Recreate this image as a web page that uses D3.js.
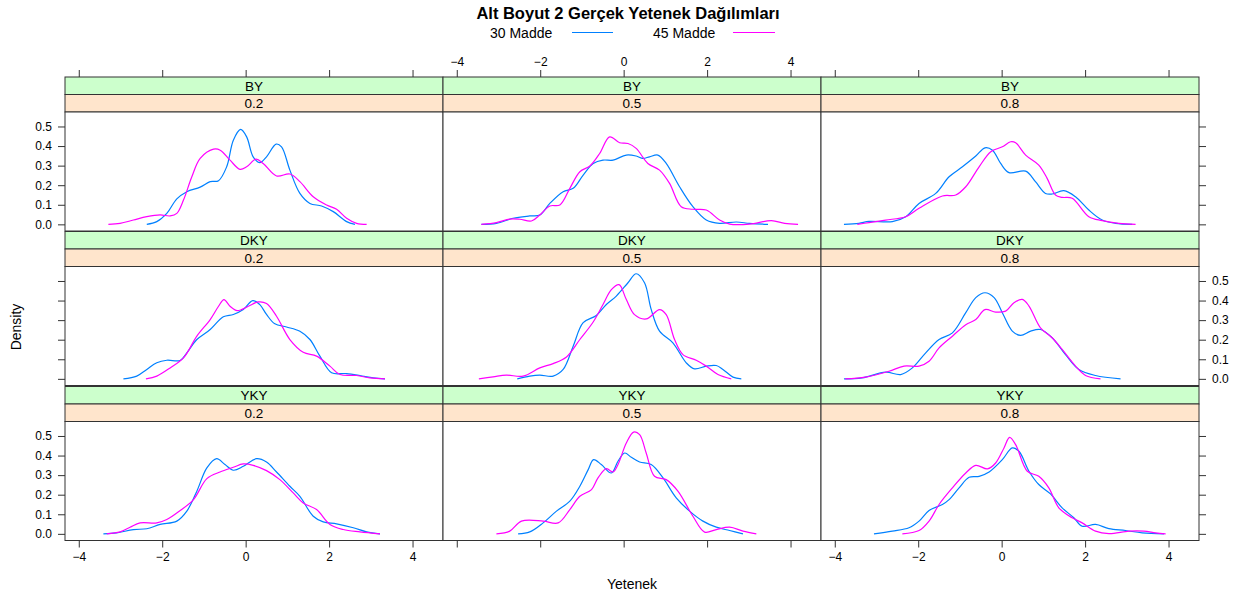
<!DOCTYPE html>
<html><head><meta charset="utf-8">
<script src="https://cdn.jsdelivr.net/npm/d3@7"></script>
<style>
body{margin:0;background:#fff}
svg text{font-family:"Liberation Sans",Arial,Helvetica,sans-serif;fill:#000}
</style>
</head><body>
<svg id="chart" width="1248" height="597"></svg>
<script>
// ---------- data ----------
const titleText = "Alt Boyut 2 Gerçek Yetenek Dağılımları";
const xLabel = "Yetenek";
const yLabel = "Density";
const rowLabels = ["BY", "DKY", "YKY"];
const colLabels = ["0.2", "0.5", "0.8"];
const seriesNames = ["30 Madde", "45 Madde"];
const seriesColors = ["#0080ff", "#ff00ff"];
const xTicks = [-4, -2, 0, 2, 4];
const yTicks = [0, 0.1, 0.2, 0.3, 0.4, 0.5];

// density curves: [ability, density]
const BY_02_30 = [[-2.37,0],[-2.13,0.014],[-1.89,0.056],[-1.65,0.13],[-1.41,0.167],[-1.09,0.19],[-0.85,0.218],[-0.65,0.223],[-0.455,0.294],[-0.295,0.43],[-0.12,0.485],[0.024,0.447],[0.18,0.345],[0.34,0.315],[0.5,0.345],[0.73,0.41],[0.86,0.396],[1.06,0.277],[1.3,0.158],[1.54,0.107],[1.82,0.094],[2.1,0.065],[2.42,0.014],[2.62,0]];
const BY_02_45 = [[-3.29,0],[-3.01,0.005],[-2.69,0.022],[-2.37,0.039],[-2.05,0.048],[-1.81,0.043],[-1.65,0.056],[-1.49,0.124],[-1.29,0.243],[-1.09,0.337],[-0.77,0.384],[-0.61,0.379],[-0.375,0.328],[-0.136,0.281],[0.024,0.294],[0.25,0.333],[0.42,0.311],[0.74,0.247],[1.06,0.257],[1.3,0.218],[1.62,0.141],[1.94,0.099],[2.18,0.077],[2.42,0.031],[2.66,0.005],[2.9,0]];
const BY_05_30 = [[-3.41,0],[-3.05,0.005],[-2.65,0.031],[-2.25,0.043],[-2.01,0.048],[-1.77,0.107],[-1.45,0.167],[-1.21,0.184],[-0.97,0.252],[-0.73,0.311],[-0.495,0.328],[-0.255,0.328],[0.064,0.354],[0.3,0.349],[0.46,0.337],[0.62,0.345],[0.82,0.354],[1.02,0.311],[1.34,0.192],[1.66,0.09],[1.98,0.022],[2.3,0.005],[2.7,0.012],[3.02,0.005],[3.46,0]];
const BY_05_45 = [[-3.41,0],[-3.05,0.009],[-2.73,0.027],[-2.49,0.026],[-2.21,0.017],[-2.01,0.048],[-1.77,0.094],[-1.53,0.099],[-1.29,0.184],[-1.05,0.269],[-0.81,0.298],[-0.575,0.362],[-0.335,0.447],[-0.096,0.417],[0.104,0.413],[0.3,0.388],[0.58,0.311],[0.86,0.277],[1.1,0.209],[1.38,0.09],[1.66,0.077],[1.98,0.073],[2.3,0.022],[2.54,0.001],[3.02,0.001],[3.54,0.019],[3.86,0.005],[4.18,0]];
const BY_08_30 = [[-3.78,0],[-3.42,0.005],[-3.18,0.015],[-2.62,0.014],[-2.3,0.039],[-1.98,0.107],[-1.58,0.158],[-1.26,0.243],[-0.94,0.294],[-0.62,0.349],[-0.4,0.391],[-0.22,0.379],[-0.024,0.311],[0.176,0.264],[0.575,0.272],[0.81,0.218],[1.05,0.158],[1.21,0.155],[1.49,0.172],[1.77,0.141],[2.09,0.073],[2.41,0.022],[2.73,0.005],[3.13,0]];
const BY_08_45 = [[-3.46,0],[-3.18,0.009],[-2.78,0.022],[-2.3,0.039],[-1.98,0.082],[-1.42,0.145],[-1.1,0.15],[-0.86,0.192],[-0.54,0.294],[-0.26,0.371],[0.016,0.396],[0.216,0.422],[0.335,0.417],[0.575,0.354],[0.89,0.303],[1.09,0.235],[1.29,0.15],[1.45,0.138],[1.69,0.133],[2.09,0.039],[2.41,0.019],[2.81,0.005],[3.21,0]];
const DKY_02_30 = [[-2.93,0],[-2.61,0.014],[-2.37,0.048],[-2.13,0.082],[-1.89,0.095],[-1.57,0.094],[-1.41,0.133],[-1.17,0.201],[-0.85,0.252],[-0.535,0.317],[-0.295,0.329],[-0.056,0.354],[0.17,0.4],[0.34,0.379],[0.5,0.329],[0.7,0.281],[0.98,0.265],[1.3,0.243],[1.54,0.201],[1.78,0.116],[2.06,0.031],[2.42,0.027],[2.74,0.017],[3.06,0.005],[3.34,0]];
const DKY_02_45 = [[-2.39,0],[-2.13,0.014],[-1.81,0.056],[-1.49,0.107],[-1.17,0.218],[-0.85,0.303],[-0.65,0.371],[-0.52,0.405],[-0.375,0.371],[-0.2,0.349],[0.064,0.371],[0.3,0.393],[0.5,0.385],[0.74,0.32],[1.06,0.201],[1.38,0.136],[1.7,0.116],[2.02,0.065],[2.26,0.022],[2.66,0.017],[2.98,0.005],[3.34,0]];
const DKY_05_30 = [[-2.55,0],[-2.25,0.014],[-2.01,0.019],[-1.69,0.014],[-1.45,0.048],[-1.21,0.167],[-0.97,0.287],[-0.655,0.324],[-0.415,0.38],[-0.176,0.423],[0.104,0.491],[0.3,0.537],[0.5,0.491],[0.66,0.355],[0.86,0.244],[1.18,0.184],[1.5,0.082],[1.7,0.051],[1.98,0.065],[2.22,0.068],[2.38,0.048],[2.62,0.009],[2.82,0]];
const DKY_05_45 = [[-3.47,0],[-3.13,0.01],[-2.81,0.019],[-2.41,0.014],[-2.01,0.056],[-1.69,0.078],[-1.37,0.112],[-1.05,0.201],[-0.735,0.289],[-0.495,0.38],[-0.295,0.456],[-0.11,0.481],[0.064,0.405],[0.26,0.328],[0.54,0.306],[0.86,0.354],[1.02,0.328],[1.22,0.201],[1.42,0.124],[1.74,0.095],[1.98,0.065],[2.26,0.022],[2.58,0]];
const DKY_08_30 = [[-3.78,0],[-3.34,0.005],[-2.78,0.034],[-2.42,0.022],[-2.14,0.056],[-1.82,0.133],[-1.5,0.201],[-1.18,0.235],[-0.86,0.338],[-0.62,0.415],[-0.4,0.44],[-0.18,0.415],[0.016,0.338],[0.255,0.244],[0.455,0.222],[0.695,0.244],[0.93,0.252],[1.21,0.21],[1.53,0.124],[1.85,0.048],[2.25,0.017],[2.85,0]];
const DKY_08_45 = [[-3.75,0],[-3.26,0.009],[-2.7,0.039],[-2.34,0.065],[-1.98,0.065],[-1.74,0.09],[-1.5,0.158],[-1.18,0.218],[-0.86,0.277],[-0.62,0.303],[-0.4,0.354],[-0.144,0.341],[0.096,0.346],[0.295,0.389],[0.495,0.406],[0.655,0.372],[0.93,0.261],[1.21,0.21],[1.45,0.15],[1.77,0.065],[2.01,0.017],[2.37,0]];
const YKY_02_30 = [[-3.41,0],[-3.09,0.005],[-2.69,0.022],[-2.37,0.026],[-2.05,0.048],[-1.65,0.065],[-1.41,0.116],[-1.17,0.218],[-0.93,0.337],[-0.695,0.384],[-0.495,0.354],[-0.295,0.325],[-0.056,0.345],[0.26,0.384],[0.5,0.367],[0.74,0.316],[1.06,0.243],[1.3,0.192],[1.62,0.09],[1.86,0.061],[2.18,0.051],[2.58,0.031],[2.9,0.01],[3.22,0]];
const YKY_02_45 = [[-3.33,0],[-3.01,0.01],[-2.77,0.034],[-2.53,0.056],[-2.13,0.056],[-1.89,0.073],[-1.57,0.119],[-1.25,0.175],[-0.93,0.282],[-0.615,0.316],[-0.295,0.34],[-0.056,0.357],[0.18,0.35],[0.5,0.323],[0.82,0.277],[1.14,0.209],[1.38,0.158],[1.7,0.124],[2.02,0.048],[2.34,0.022],[2.74,0.01],[3.22,0]];
const YKY_05_30 = [[-2.53,0],[-2.25,0.01],[-1.93,0.056],[-1.61,0.116],[-1.29,0.167],[-1.05,0.243],[-0.85,0.328],[-0.72,0.379],[-0.535,0.354],[-0.295,0.311],[-0.136,0.371],[0.024,0.413],[0.184,0.391],[0.383,0.367],[0.66,0.354],[0.94,0.287],[1.26,0.184],[1.58,0.116],[1.9,0.065],[2.22,0.034],[2.54,0.017],[2.86,0]];
const YKY_05_45 = [[-3.05,0],[-2.73,0.014],[-2.45,0.065],[-1.93,0.065],[-1.57,0.056],[-1.29,0.124],[-1.05,0.192],[-0.77,0.226],[-0.615,0.286],[-0.415,0.333],[-0.255,0.316],[-0.136,0.354],[0.064,0.464],[0.24,0.52],[0.383,0.507],[0.54,0.413],[0.74,0.294],[1.02,0.277],[1.3,0.218],[1.66,0.09],[1.94,0.009],[2.22,0.022],[2.54,0.034],[2.86,0.014],[3.18,0]];
const YKY_08_30 = [[-3.06,0],[-2.62,0.014],[-2.22,0.031],[-1.98,0.065],[-1.74,0.119],[-1.42,0.15],[-1.26,0.175],[-1.02,0.235],[-0.78,0.289],[-0.54,0.294],[-0.3,0.316],[0.016,0.379],[0.255,0.439],[0.415,0.422],[0.655,0.32],[0.89,0.252],[1.17,0.204],[1.45,0.133],[1.73,0.082],[1.93,0.039],[2.25,0.048],[2.57,0.027],[2.97,0.017],[3.37,0.005],[3.89,0]];
const YKY_08_45 = [[-2.38,0],[-1.98,0.017],[-1.74,0.065],[-1.5,0.15],[-1.18,0.235],[-0.86,0.311],[-0.62,0.35],[-0.34,0.332],[-0.144,0.362],[0.056,0.439],[0.19,0.493],[0.335,0.456],[0.615,0.32],[0.89,0.294],[1.13,0.235],[1.37,0.133],[1.69,0.082],[1.93,0.056],[2.25,0.014],[2.57,0.001],[3.05,0.014],[3.41,0.014],[3.69,0.005],[3.93,0]];

const panelData = [
  [[BY_02_30, BY_02_45], [BY_05_30, BY_05_45], [BY_08_30, BY_08_45]],
  [[DKY_02_30, DKY_02_45], [DKY_05_30, DKY_05_45], [DKY_08_30, DKY_08_45]],
  [[YKY_02_30, YKY_02_45], [YKY_05_30, YKY_05_45], [YKY_08_30, YKY_08_45]]
];

// ---------- layout ----------
const svg = d3.select("#chart");
const colX = [65, 443, 821];
const panelW = 378;
const rowTop = [77, 231.5, 386.5];
const stripH = 17.5;
const panelH = 119;
const tickLen = 7;
const stripColors = ["#ccffcc", "#ffe5cc"];
const frameCol = "#333";

const x = d3.scaleLinear().domain([-4.33, 4.73]).range([0, panelW]);
const y = d3.scaleLinear().domain([-0.034, 0.574]).range([panelH, 0]);

const line = d3.line()
  .x(d => x(d[0])).y(d => y(d[1]))
  .curve(d3.curveCatmullRom.alpha(0.5));

const defs = svg.append("defs");
defs.append("clipPath").attr("id", "pclip")
  .append("rect").attr("x", 0).attr("y", 0).attr("width", panelW).attr("height", panelH);

// title
svg.append("text").attr("x", 628).attr("y", 19).attr("text-anchor", "middle")
  .style("font-weight", "bold").style("font-size", "16.5px").text(titleText);

// legend
const legendText = [490, 653];
const legendLine = [[572, 613], [733, 775]];
seriesNames.forEach((s, i) => {
  svg.append("text").attr("x", legendText[i]).attr("y", 37.5)
    .style("font-size", "14px").text(s);
  svg.append("line").attr("x1", legendLine[i][0]).attr("x2", legendLine[i][1])
    .attr("y1", 32.5).attr("y2", 32.5)
    .attr("stroke", seriesColors[i]).attr("stroke-width", 1.2);
});

// panels
rowLabels.forEach((rl, r) => {
  colLabels.forEach((cl, c) => {
    const g = svg.append("g").attr("transform", `translate(${colX[c]},${rowTop[r]})`);
    // strips
    [rl, cl].forEach((lab, k) => {
      g.append("rect").attr("x", 0).attr("y", k * stripH).attr("width", panelW).attr("height", stripH)
        .attr("fill", stripColors[k]).attr("stroke", frameCol).attr("stroke-width", 1);
      g.append("text").attr("x", panelW / 2).attr("y", k * stripH + stripH / 2 + 5)
        .attr("text-anchor", "middle").style("font-size", "13.5px").text(lab);
    });
    const p = g.append("g").attr("transform", `translate(0,${2 * stripH})`);
    p.append("rect").attr("width", panelW).attr("height", panelH).attr("fill", "#fff");
    const curves = p.append("g").attr("clip-path", "url(#pclip)");
    panelData[r][c].forEach((ser, si) => {
      curves.append("path").datum(ser).attr("d", line)
        .attr("fill", "none").attr("stroke", seriesColors[si]).attr("stroke-width", 1.2);
    });
    p.append("rect").attr("width", panelW).attr("height", panelH)
      .attr("fill", "none").attr("stroke", frameCol).attr("stroke-width", 1);

    // axes (lattice alternating)
    const styleAxis = a => {
      a.select(".domain").remove();
      a.selectAll(".tick line").attr("stroke", frameCol);
      a.selectAll(".tick text").style("font-size", "12px").style("font-family", '"Liberation Sans",Arial,sans-serif');
    };
    if (r === 0) {
      const ax = d3.axisTop(x).tickValues(xTicks).tickSize(tickLen).tickPadding(4)
        .tickFormat(c === 1 ? d3.format("d") : () => "");
      g.append("g").call(ax).call(styleAxis);
    }
    if (r === 2) {
      const ax = d3.axisBottom(x).tickValues(xTicks).tickSize(tickLen).tickPadding(5)
        .tickFormat(c !== 1 ? d3.format("d") : () => "");
      p.append("g").attr("transform", `translate(0,${panelH})`).call(ax).call(styleAxis);
    }
    if (c === 0) {
      const ay = d3.axisLeft(y).tickValues(yTicks).tickSize(tickLen).tickPadding(6)
        .tickFormat(r !== 1 ? d3.format(".1f") : () => "");
      p.append("g").call(ay).call(styleAxis);
    }
    if (c === 2) {
      const ay = d3.axisRight(y).tickValues(yTicks).tickSize(tickLen).tickPadding(6)
        .tickFormat(r === 1 ? d3.format(".1f") : () => "");
      p.append("g").attr("transform", `translate(${panelW},0)`).call(ay).call(styleAxis);
    }
  });
});

// axis titles
svg.append("text").attr("transform", "translate(21,327) rotate(-90)")
  .attr("text-anchor", "middle").style("font-size", "14px").text(yLabel);
svg.append("text").attr("x", 632).attr("y", 589)
  .attr("text-anchor", "middle").style("font-size", "14px").text(xLabel);
</script>
</body></html>
